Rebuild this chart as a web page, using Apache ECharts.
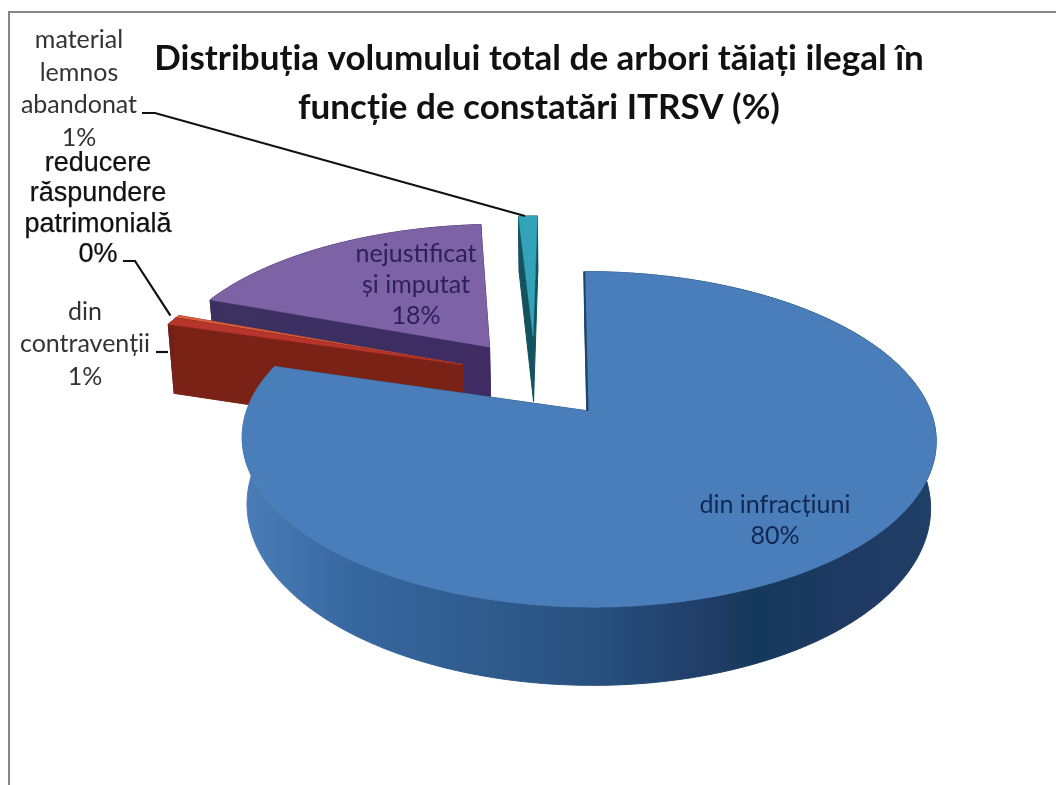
<!DOCTYPE html>
<html>
<head>
<meta charset="utf-8">
<style>html,body{margin:0;padding:0;background:#fff}#c{width:1056px;height:785px}</style>
<script src="https://cdn.jsdelivr.net/npm/echarts@6/dist/echarts.min.js"></script>
</head>
<body>
<div id="c"></div>
<script>
const titleLines = ["Distribuția volumului total de arbori tăiați ilegal în", "funcție de constatări ITRSV (%)"];
const categories = ["din infracțiuni", "din contravenții", "reducere răspundere patrimonială", "nejustificat și imputat", "material lemnos abandonat"];
const labelLines = [["din infracțiuni"], ["din", "contravenții"], ["reducere", "răspundere", "patrimonială"], ["nejustificat", "și imputat"], ["material", "lemnos", "abandonat"]];
const shares = [79.6, 0.8, 0.3, 18.2, 1.1];

/* styling and layout of the exploded 3D look */
const drawOrder = [5, 4, 3, 2, 1];
const explodeU = [0, -0.385, -0.385, -0.305, -0.17];
const explodeV = [0, -0.30, -0.30, -0.42, -0.5];
const topColors = ["#4a7ebb", "#b8352c", "#d9603c", "#7e62a6", "#33a3b8"];
const depths = [65, 76, 76, 65, 71];
const wallStops = [
  [[0, "#4b7db8"], [0.16, "#36679f"], [0.5, "#29517f"], [0.68, "#1f3c66"], [0.74, "#15395a"], [0.88, "#1f3a63"], [1, "#1f3f66"]],
  [[0, "#6f1f18"], [1, "#7a2216"]],
  [[0, "#a03a22"], [1, "#a03a22"]],
  [[0, "#3b3160"], [1, "#3e2c63"]],
  [[0, "#14525f"], [1, "#14525f"]]
];
const labelPos = [[775, 520], [85, 344], [98, 209], [416, 285], [79, 89]];
const labelSizes = [25, 25, 27, 25, 25];
const labelFonts = ["Lato", "Lato", "Liberation Sans", "Lato", "Lato"];
const labelFills = ["#12274f", "#333333", "#111111", "#2c2158", "#333333"];
const labelLH = [31, 32.5, 30.5, 31, 32.5];
const labelStroke = [0, 0, 0.25, 0, 0];
const leaders = [null, [[156, 352], [168, 352]], [[123, 261], [135, 261]], null, [[142, 113], [155, 113]]];
const leaderTipShift = [null, null, [-7, -1], null, [-1, 0]];

const P = { c: 588.5, cy: 411, A: 342, B: 163, k: 0.169, vx: 565, f: 0.985 };
function project(u, v) {
  const s = 1 / (1 - P.k * v);
  return { x: P.vx + (P.c - P.vx + P.A * u) * s, y: P.cy + P.B * v * s, s };
}
function drop(p, d) { return [P.vx + (p.x - P.vx) * P.f, p.y + d * p.s]; }

const total = shares.reduce((a, b) => a + b, 0);
function sliceAngles(i) {
  let acc = 0;
  for (let j = 0; j < i; j++) acc += shares[j];
  return [acc / total * 2 * Math.PI, (acc + shares[i]) / total * 2 * Math.PI];
}

function renderItem(params, api) {
  const i = params.dataIndex, share = api.value(0);
  const [a0, a1] = sliceAngles(i);
  const du = explodeU[i], dv = explodeV[i], d = depths[i];
  const n = Math.max(2, Math.ceil((a1 - a0) / 0.015));
  const arc = [];
  for (let t = 0; t <= n; t++) {
    const a = a0 + (a1 - a0) * t / n;
    arc.push(project(du + Math.sin(a), dv - Math.cos(a)));
  }
  const apex = project(du, dv);
  const base = drawOrder[i] * 10;
  const xy = p => [p.x, p.y];
  const xs = arc.map(p => p.x);
  const grad = new echarts.graphic.LinearGradient(Math.min(...xs), 0, Math.max(...xs), 0, wallStops[i].map(s => ({ offset: s[0], color: s[1] })), true);
  const wall = (pts, z) => ({ type: "polygon", z2: z, shape: { points: pts }, style: { fill: grad, stroke: grad, lineWidth: 1 } });
  const children = [];
  const endP = arc[arc.length - 1], startP = arc[0];
  children.push(wall([xy(apex), xy(endP), drop(endP, d), drop(apex, d)], base));
  children.push(wall([xy(apex), xy(startP), drop(startP, d), drop(apex, d)], base + 1));
  children.push(wall(arc.map(xy).concat(arc.slice().reverse().map(p => drop(p, d))), base + 2));
  children.push({ type: "polygon", z2: base + 3, shape: { points: [xy(apex)].concat(arc.map(xy)) },
    style: { fill: topColors[i], stroke: topColors[i], lineWidth: 0.5 } });
  if (i === 0) {
    children.push({ type: "line", z2: base + 4, shape: { x1: startP.x - 1, y1: startP.y, x2: apex.x - 1, y2: apex.y },
      style: { stroke: "#1f4468", lineWidth: 2 } });
  }
  if (leaders[i]) {
    const pts = leaders[i].slice();
    if (leaderTipShift[i]) {
      const mid = arc[Math.floor(n / 2)];
      pts.push([mid.x + leaderTipShift[i][0], mid.y + leaderTipShift[i][1]]);
    }
    children.push({ type: "polyline", z2: 100, shape: { points: pts }, style: { stroke: "#111", lineWidth: 2.2, fill: null } });
  }
  children.push({ type: "text", z2: 101, style: {
    x: labelPos[i][0], y: labelPos[i][1],
    text: labelLines[i].concat([Math.round(share) + "%"]).join("\n"),
    fontFamily: labelFonts[i], fontSize: labelSizes[i], fill: labelFills[i],
    stroke: labelStroke[i] ? labelFills[i] : null, lineWidth: labelStroke[i],
    align: "center", verticalAlign: "middle", lineHeight: labelLH[i]
  } });
  return { type: "group", children };
}

const chart = echarts.init(document.getElementById("c"), null, { renderer: "canvas" });
chart.setOption({
  animation: false,
  backgroundColor: "#ffffff",
  title: {
    text: titleLines.join("\n"), left: 534, top: 29, textAlign: "center",
    textStyle: { fontFamily: "Lato", fontWeight: "bold", fontSize: 35, lineHeight: 49, color: "#111" }
  },
  graphic: [{
    type: "polyline", silent: true,
    shape: { points: [[9, 785], [9, 12], [1056, 12]] },
    style: { stroke: "#878787", lineWidth: 2, fill: null }
  }],
  series: [{
    type: "custom",
    coordinateSystem: "none",
    renderItem,
    data: categories.map((name, i) => ({ name, value: [shares[i]] }))
  }]
});
</script>
</body>
</html>
